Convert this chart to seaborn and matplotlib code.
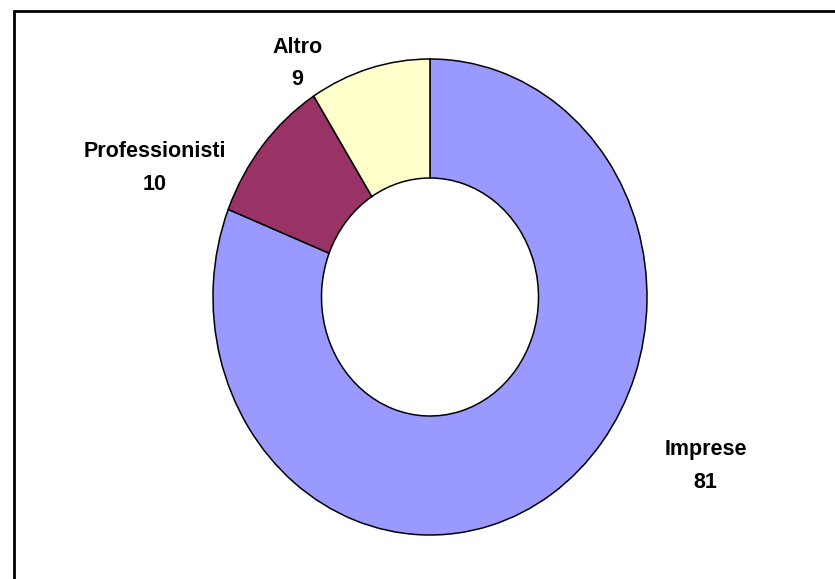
import matplotlib
matplotlib.use("Agg")
import matplotlib.pyplot as plt
import seaborn as sns
from matplotlib.patches import Rectangle

# data
categories = ["Imprese", "Professionisti", "Altro"]
values = [81, 10, 9]
colors = ["#9999FF", "#993366", "#FFFFCC"]

# label positions (axes fraction)
label_pos = [(0.845, 0.195), (0.185, 0.71), (0.356, 0.89)]

sns.set_theme(style="white")
plt.rcParams["font.family"] = ["Liberation Sans", "DejaVu Sans"]

fig = plt.figure(figsize=(8.35, 5.79), dpi=100)
ax = fig.add_axes([0, 0, 1, 1])

ax.pie(values, colors=colors, startangle=90, counterclock=False,
       radius=1.0, wedgeprops=dict(width=0.5, edgecolor="black", linewidth=1.1))

# stretched ellipse like the original (not equal aspect)
ax.set_aspect("auto")
ax.set_xlim(-430 / 217, (835 - 430) / 217)
ax.set_ylim(-(579 - 297) / 238, 297 / 238)
ax.axis("off")

for cat, val, (x, y) in zip(categories, values, label_pos):
    ax.text(x, y, f"{cat}\n{val}", transform=ax.transAxes, ha="center", va="center",
            fontsize=15.5, fontweight="bold", linespacing=1.7, color="black")

# chart frame (only top and left edges are visible in the crop)
fig.patches.append(Rectangle((13.5 / 835, -0.1), 1.2, (579 - 10.5) / 579 + 0.1,
                             transform=fig.transFigure, fill=False,
                             edgecolor="black", linewidth=2.0))

fig.savefig("out.png", dpi=100)
